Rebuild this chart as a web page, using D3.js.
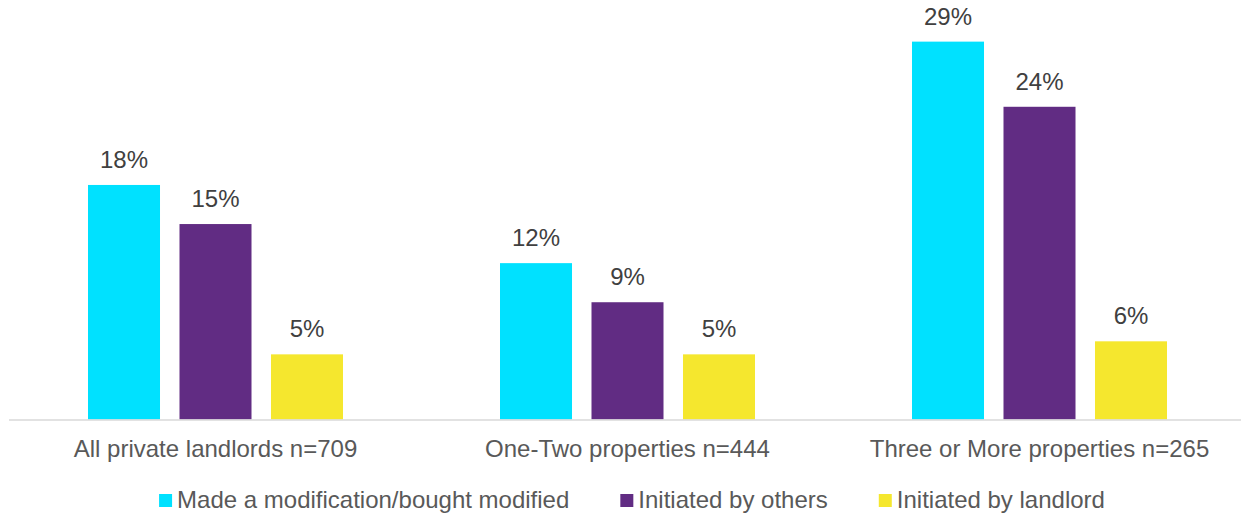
<!DOCTYPE html>
<html>
<head>
<meta charset="utf-8">
<script src="https://cdn.jsdelivr.net/npm/d3@7"></script>
<style>
  html, body { margin: 0; padding: 0; background: #fff; }
  svg { display: block; font-family: "Liberation Sans", Arial, sans-serif; }
</style>
</head>
<body>
<svg id="chart" width="1241" height="515"></svg>
<script>
// Landlord groups shown along the x axis
const categories = ["All private landlords n=709", "One-Two properties n=444", "Three or More properties n=265"];

// Series names and colours
const seriesNames = ["Made a modification/bought modified", "Initiated by others", "Initiated by landlord"];
const seriesColors = ["#00E1FF", "#612C83", "#F5E72E"];

// Percentages per series, one value per category
const madeModification = [18, 12, 29];
const initiatedByOthers = [15, 9, 24];
const initiatedByLandlord = [5, 5, 6];

const seriesValues = [madeModification, initiatedByOthers, initiatedByLandlord];

const svg = d3.select("#chart");
const baseline = 419.5;

const x0 = d3.scaleBand().domain(categories).range([9.5, 1245.5]).padding(0);
const inner = 255;
const x1 = d3.scaleBand()
  .domain(d3.range(seriesNames.length))
  .range([x0.bandwidth() / 2 - inner / 2, x0.bandwidth() / 2 + inner / 2])
  .paddingInner(0.213)
  .paddingOuter(0);

const y = d3.scaleLinear().domain([0, 30]).range([baseline, baseline - 13.03 * 30]);

// Bars and value labels
const groups = svg.append("g").selectAll("g")
  .data(categories)
  .join("g")
  .attr("transform", d => `translate(${x0(d)},0)`);

groups.each(function (cat, ci) {
  const g = d3.select(this);
  const rows = seriesValues.map((vals, si) => ({ si, v: vals[ci] }));
  g.selectAll("rect")
    .data(rows)
    .join("rect")
    .attr("x", d => x1(d.si))
    .attr("y", d => y(d.v))
    .attr("width", x1.bandwidth())
    .attr("height", d => y(0) - y(d.v))
    .attr("fill", d => seriesColors[d.si]);
  g.selectAll("text")
    .data(rows)
    .join("text")
    .attr("x", d => x1(d.si) + x1.bandwidth() / 2)
    .attr("y", d => y(d.v) - 17)
    .attr("text-anchor", "middle")
    .attr("font-size", 24)
    .attr("fill", "#404040")
    .text(d => d.v + "%");
});

// Category axis
const xAxis = svg.append("g")
  .attr("transform", `translate(0,${baseline + 0.5})`)
  .call(d3.axisBottom(x0).tickSize(0).tickPadding(0));
xAxis.select(".domain").attr("stroke", "#d9d9d9").attr("stroke-width", 1.5)
  .attr("d", "M9,0H1241");
xAxis.selectAll(".tick text")
  .attr("dy", null)
  .attr("y", 37)
  .attr("font-size", 24)
  .attr("font-family", "Liberation Sans, Arial, sans-serif")
  .attr("fill", "#595959");

// Legend, centred under the plot
const legend = svg.append("g");
const items = legend.selectAll("g")
  .data(seriesNames)
  .join("g");
items.append("rect")
  .attr("width", 13).attr("height", 13)
  .attr("y", 494)
  .attr("fill", (d, i) => seriesColors[i]);
items.append("text")
  .attr("x", 18)
  .attr("y", 508)
  .attr("font-size", 24)
  .attr("fill", "#595959")
  .text(d => d);

const gap = 51;
let widths = [];
items.each(function () {
  widths.push(d3.select(this).select("text").node().getComputedTextLength() + 18);
});
const total = d3.sum(widths) + gap * (widths.length - 1);
let cursor = 632 - total / 2;
items.attr("transform", (d, i) => {
  const t = `translate(${cursor},0)`;
  cursor += widths[i] + gap;
  return t;
});
</script>
</body>
</html>
